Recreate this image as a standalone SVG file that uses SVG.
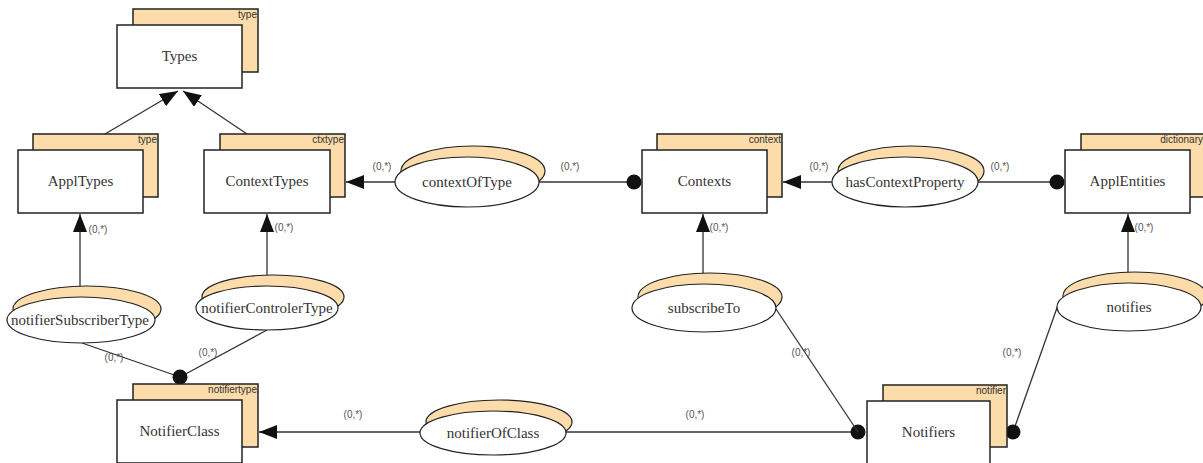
<svg xmlns="http://www.w3.org/2000/svg" width="1203" height="463" viewBox="0 0 1203 463">
<style>
.bk{fill:#fcdcaa;stroke:#222;stroke-width:1.5}
.fr{fill:#fff;stroke:#222;stroke-width:1.5}
.sh{fill:#fcdcaa;stroke:#222;stroke-width:1.2}
.ef{fill:#fff;stroke:#222;stroke-width:1.2}
.nm{font-family:"Liberation Serif",serif;font-size:15px;fill:#333;text-anchor:middle}
.tg{font-family:"Liberation Sans",sans-serif;font-size:10px;fill:#333;text-anchor:end}
.card{font-family:"Liberation Sans",sans-serif;font-size:10px;fill:#555;text-anchor:middle}
.ln{stroke:#333;stroke-width:1.3;fill:none}
.ar{marker-end:url(#ah)}
.dot{fill:#111}
</style>
<defs>
<marker id="ah" viewBox="0 0 18 14" refX="18" refY="7" markerWidth="18" markerHeight="14" markerUnits="userSpaceOnUse" orient="auto">
<path d="M0,0 L18,7 L0,14 z" fill="#111"/>
</marker>
</defs>
<rect width="1203" height="463" fill="#fff"/>

<g id="connectors">
<line class="ln ar" x1="105" y1="134" x2="178" y2="91"/>
<line class="ln ar" x1="247" y1="134" x2="183" y2="91"/>
<line class="ln ar" x1="395" y1="182" x2="346" y2="182"/>
<line class="ln" x1="539" y1="182" x2="634" y2="182"/>
<circle class="dot" cx="634" cy="182" r="7.5"/>
<line class="ln ar" x1="832" y1="182" x2="783" y2="182"/>
<line class="ln" x1="978" y1="182" x2="1057" y2="182"/>
<circle class="dot" cx="1057" cy="182" r="7.5"/>
<line class="ln ar" x1="80" y1="297" x2="80" y2="214"/>
<line class="ln ar" x1="267" y1="286" x2="267" y2="214"/>
<line class="ln ar" x1="703" y1="284" x2="703" y2="214"/>
<line class="ln ar" x1="1128" y1="283" x2="1128" y2="214"/>
<line class="ln" x1="82" y1="343" x2="180" y2="377"/>
<line class="ln" x1="267" y1="330" x2="180" y2="377"/>
<circle class="dot" cx="180" cy="377" r="7.5"/>
<line class="ln ar" x1="420" y1="432" x2="259" y2="432"/>
<line class="ln" x1="566" y1="432" x2="858" y2="432"/>
<circle class="dot" cx="858" cy="432" r="7.5"/>
<line class="ln" x1="776" y1="309" x2="858" y2="432"/>
<line class="ln" x1="1058" y1="305" x2="1013" y2="432"/>
<circle class="dot" cx="1013" cy="432" r="7.5"/>
<text class="card" x="382" y="170">(0,*)</text>
<text class="card" x="570" y="170">(0,*)</text>
<text class="card" x="819" y="170">(0,*)</text>
<text class="card" x="1000" y="170">(0,*)</text>
<text class="card" x="98" y="233">(0,*)</text>
<text class="card" x="284" y="231">(0,*)</text>
<text class="card" x="719" y="231">(0,*)</text>
<text class="card" x="1144" y="231">(0,*)</text>
<text class="card" x="114" y="361">(0,*)</text>
<text class="card" x="208" y="356">(0,*)</text>
<text class="card" x="353" y="418">(0,*)</text>
<text class="card" x="695" y="418">(0,*)</text>
<text class="card" x="801" y="356">(0,*)</text>
<text class="card" x="1012" y="356">(0,*)</text>
</g>

<g id="Types">
<rect class="bk" x="133" y="9" width="125" height="63"/>
<text class="tg" x="257" y="18">type</text>
<rect class="fr" x="117" y="25" width="125" height="63"/>
<text class="nm" x="179.5" y="61">Types</text>
</g>
<g id="ApplTypes">
<rect class="bk" x="33" y="134" width="125" height="63"/>
<text class="tg" x="157" y="143">type</text>
<rect class="fr" x="18" y="150" width="125" height="63"/>
<text class="nm" x="80.5" y="186">ApplTypes</text>
</g>
<g id="ContextTypes">
<rect class="bk" x="220" y="134" width="125" height="63"/>
<text class="tg" x="344" y="143">ctxtype</text>
<rect class="fr" x="204" y="150" width="126" height="63"/>
<text class="nm" x="267" y="186">ContextTypes</text>
</g>
<g id="Contexts">
<rect class="bk" x="657" y="134" width="125" height="63"/>
<text class="tg" x="781" y="143">context</text>
<rect class="fr" x="642" y="150" width="125" height="63"/>
<text class="nm" x="704.5" y="186">Contexts</text>
</g>
<g id="ApplEntities">
<rect class="bk" x="1081" y="134" width="125" height="63"/>
<text class="tg" x="1203" y="143">dictionary</text>
<rect class="fr" x="1065" y="150" width="125" height="63"/>
<text class="nm" x="1127.5" y="186">ApplEntities</text>
</g>
<g id="NotifierClass">
<rect class="bk" x="133" y="384" width="125" height="63"/>
<text class="tg" x="257" y="393">notifiertype</text>
<rect class="fr" x="117" y="400" width="125" height="63"/>
<text class="nm" x="179.5" y="436">NotifierClass</text>
</g>
<g id="Notifiers">
<rect class="bk" x="883" y="385" width="124" height="62"/>
<text class="tg" x="1006" y="394">notifier</text>
<rect class="fr" x="867" y="401" width="123" height="63"/>
<text class="nm" x="928.5" y="437">Notifiers</text>
</g>

<g id="contextOfType">
<ellipse class="sh" cx="473" cy="171" rx="72" ry="25"/>
<ellipse class="ef" cx="467" cy="182" rx="72" ry="25"/>
<text class="nm" x="467" y="187">contextOfType</text>
</g>
<g id="hasContextProperty">
<ellipse class="sh" cx="911" cy="171" rx="73" ry="25"/>
<ellipse class="ef" cx="905" cy="182" rx="73" ry="25"/>
<text class="nm" x="905" y="187">hasContextProperty</text>
</g>
<g id="notifierSubscriberType">
<ellipse class="sh" cx="87" cy="309" rx="74" ry="23"/>
<ellipse class="ef" cx="81" cy="320" rx="74" ry="23"/>
<text class="nm" x="80" y="325">notifierSubscriberType</text>
</g>
<g id="notifierControlerType">
<ellipse class="sh" cx="273" cy="297" rx="71" ry="22"/>
<ellipse class="ef" cx="267" cy="308" rx="71" ry="22"/>
<text class="nm" x="267" y="313">notifierControlerType</text>
</g>
<g id="subscribeTo">
<ellipse class="sh" cx="710" cy="297" rx="72" ry="24"/>
<ellipse class="ef" cx="704" cy="308" rx="72" ry="24"/>
<text class="nm" x="704" y="313">subscribeTo</text>
</g>
<g id="notifies">
<ellipse class="sh" cx="1135" cy="296" rx="72" ry="24"/>
<ellipse class="ef" cx="1129" cy="307" rx="72" ry="24"/>
<text class="nm" x="1129" y="312">notifies</text>
</g>
<g id="notifierOfClass">
<ellipse class="sh" cx="499" cy="422" rx="73" ry="22"/>
<ellipse class="ef" cx="493" cy="433" rx="73" ry="22"/>
<text class="nm" x="493" y="438">notifierOfClass</text>
</g>
</svg>
